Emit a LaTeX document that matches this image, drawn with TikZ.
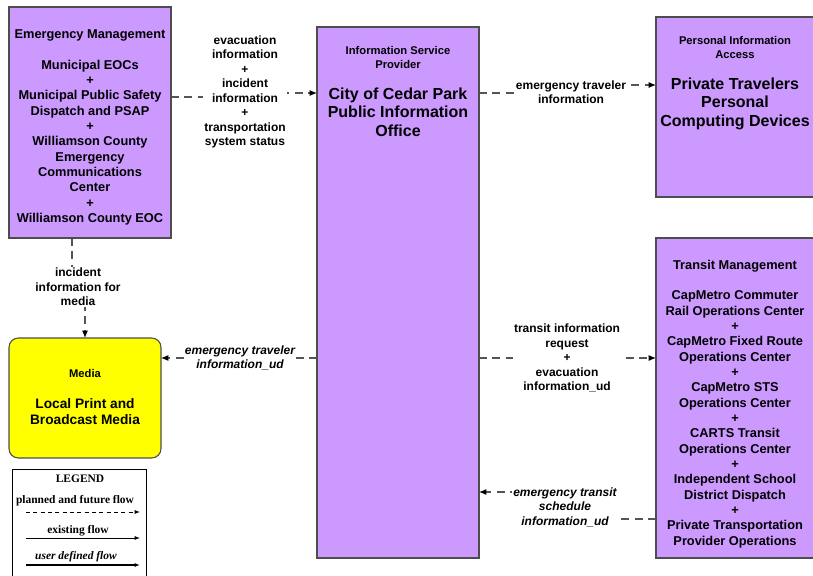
\documentclass[tikz,border=0pt]{standalone}
\usepackage{fontspec}
\setmainfont{Liberation Sans}
\newfontfamily\legendfont{Liberation Serif}
\usepackage{tikz}
\usetikzlibrary{arrows.meta,positioning,backgrounds}
\definecolor{ccpurple}{HTML}{CC99FF}
\definecolor{ccyellow}{HTML}{FFFF00}
\definecolor{ccline}{HTML}{4D4D4D}
\definecolor{ccflow}{HTML}{555555}

\begin{document}
\begin{tikzpicture}[
  x=0.75pt, y=-0.75pt,
  box/.style={draw=ccline, fill=ccpurple, line width=0.8pt, inner sep=0pt,
              outer sep=0pt, anchor=north west},
  mediabox/.style={box, fill=ccyellow, rounded corners=7pt},
  ttl/.style={font=\bfseries\fontsize{8.4}{9.8}\selectfont, align=center},
  big/.style={font=\bfseries\fontsize{12}{13.9}\selectfont, align=center},
  lst/.style={font=\bfseries\fontsize{9.6}{11.5}\selectfont, align=center},
  lbl/.style={font=\bfseries\fontsize{9}{10.9}\selectfont, align=center,
              fill=white, inner sep=1pt},
  udlbl/.style={lbl, font=\bfseries\itshape\fontsize{9}{10.9}\selectfont},
  flow/.style={draw=ccflow, line width=0.8pt, dash pattern=on 6pt off 4pt,
               -{Latex[length=5.5pt, width=4.5pt, color=black]}},
  legtxt/.style={font=\legendfont\bfseries\fontsize{8.6}{10}\selectfont},
  legline/.style={line width=0.7pt, -{Latex[length=4pt, width=3pt]}},
]
\useasboundingbox (0,0) rectangle (813,575);

% boxes
\node[box, minimum width=121.5pt, minimum height=173.25pt] (em) at (9,7) {};
\node[box, minimum width=121.5pt, minimum height=398.25pt] (isp) at (317,27) {};
\node[box, minimum width=120pt, minimum height=135pt] (pia) at (656,17) {};
\node[box, minimum width=120pt, minimum height=240pt] (tm) at (656,238) {};
\node[mediabox, minimum width=114pt, minimum height=90pt] (media) at (9,338) {};

% box texts
\node[lst] (em-t) at (90,127.5) {Emergency Management\\[11.5pt]
  Municipal EOCs\\+\\Municipal Public Safety\\Dispatch and PSAP\\+\\
  Williamson County\\Emergency\\Communications\\Center\\+\\Williamson County EOC};
\node[ttl] (isp-t) at (398,57.5) {Information Service\\Provider};
\node[big] (isp-n) at (398,112) {City of Cedar Park\\Public Information\\Office};
\node[ttl] (pia-t) at (735,47.5) {Personal Information\\Access};
\node[big] (pia-n) at (735,103.5) {Private Travelers\\Personal\\Computing Devices};
\node[lst] (tm-t) at (735,404) {Transit Management\\[11.5pt]
  CapMetro Commuter\\Rail Operations Center\\+\\CapMetro Fixed Route\\
  Operations Center\\+\\CapMetro STS\\Operations Center\\+\\CARTS Transit\\
  Operations Center\\+\\Independent School\\District Dispatch\\+\\
  Private Transportation\\Provider Operations};
\node[ttl] (media-t) at (85,373) {Media};
\node[big, font=\bfseries\fontsize{10.3}{12}\selectfont] (media-n) at (85,412)
  {Local Print and\\Broadcast Media};

% flow labels
\node[lbl] (evac) at (245,92) {evacuation\\information\\+\\incident\\information\\+\\
  transportation\\system status};
\node[lbl] (travinfo) at (571,92) {emergency traveler\\information};
\node[lbl] (incmedia) at (78,287) {incident\\information for\\media};
\node[udlbl] (travud) at (240,358) {emergency traveler\\information\_ud};
\node[lbl] (transreq) at (567,358) {transit information\\request\\+\\evacuation\\
  information\_ud};
\node[udlbl] (schedud) at (565,507) {emergency transit\\schedule\\information\_ud};

% flows
\begin{scope}[on background layer]
\draw[flow] (em.east |- 0,97) -| (evac) |- (isp.west |- 0,93);
\draw[flow] (isp.east |- 0,93) -| (travinfo) |- (pia.west |- 0,85);
\draw[flow] (em.south -| 72,0) |- (incmedia) -| (media.north);
\draw[flow] (isp.west |- 0,358) -- (media.east |- 0,358);
\draw[flow] (isp.east |- 0,358) -- (tm.west |- 0,358);
\draw[flow] (tm.west |- 0,519) -| (schedud) |- (isp.east |- 0,492);
\end{scope}

% legend
\node[draw=black, line width=0.8pt, minimum width=100.5pt, minimum height=92pt,
      inner sep=0pt, anchor=north west] (legend) at (12,469) {};
\node[legtxt] (leg-t) at (80,479) {LEGEND};
\node[legtxt] (leg-p) at (75,501) {planned and future flow};
\node[legtxt] (leg-e) at (78,531) {existing flow};
\node[legtxt, font=\legendfont\bfseries\itshape\fontsize{8.6}{10}\selectfont]
  (leg-u) at (76,557) {user defined flow};
\coordinate (p1) at (26,512); \coordinate (p2) at (140,512);
\coordinate (e1) at (26,538); \coordinate (e2) at (140,538);
\coordinate (u1) at (26,565); \coordinate (u2) at (140,565);
\draw[legline, dash pattern=on 3pt off 2.5pt] (p1) -- (p2);
\draw[legline] (e1) -- (e2);
\draw[legline, line width=1pt] (u1) -- (u2);
\end{tikzpicture}
\end{document}
